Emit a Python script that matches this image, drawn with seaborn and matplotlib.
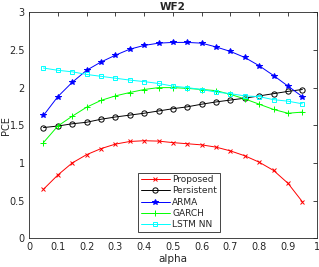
import numpy as np
import pandas as pd
import seaborn as sns
import matplotlib.pyplot as plt

# alpha values
alpha = [0.05, 0.1, 0.15, 0.2, 0.25, 0.3, 0.35, 0.4, 0.45, 0.5,
         0.55, 0.6, 0.65, 0.7, 0.75, 0.8, 0.85, 0.9, 0.95]

# PCE per method
proposed = [0.65, 0.84, 1.00, 1.11, 1.19, 1.25, 1.285, 1.295, 1.29, 1.27,
            1.255, 1.24, 1.21, 1.16, 1.095, 1.01, 0.90, 0.73, 0.485]
persistent = [1.47, 1.49, 1.52, 1.54, 1.58, 1.61, 1.635, 1.66, 1.69, 1.72,
              1.745, 1.78, 1.81, 1.835, 1.86, 1.89, 1.92, 1.95, 1.975]
arma = [1.63, 1.88, 2.07, 2.23, 2.34, 2.43, 2.51, 2.56, 2.59, 2.60,
        2.60, 2.59, 2.54, 2.48, 2.40, 2.29, 2.16, 2.02, 1.88]
garch = [1.27, 1.49, 1.62, 1.74, 1.83, 1.89, 1.935, 1.975, 2.00, 2.00,
         1.99, 1.975, 1.96, 1.91, 1.85, 1.78, 1.71, 1.66, 1.675]
lstm = [2.26, 2.23, 2.21, 2.175, 2.15, 2.125, 2.10, 2.08, 2.055, 2.02,
        2.00, 1.975, 1.94, 1.92, 1.89, 1.88, 1.84, 1.82, 1.785]

names = ['Proposed', 'Persistent', 'ARMA', 'GARCH', 'LSTM NN']
series = [proposed, persistent, arma, garch, lstm]
colors = ['#ff0000', '#000000', '#0000ff', '#00ff00', '#00ffff']
markers = ['x', 'o', '*', '+', 's']
msizes = [3.2, 3.8, 4.2, 4.2, 3.5]

sns.set_style('white')
plt.rcParams['font.family'] = ['DejaVu Sans']

fig = plt.figure(figsize=(3.19, 2.67), dpi=100)
ax = fig.add_axes([0.091, 0.1075, 0.902, 0.8465])

for name, vals, c, m, ms in zip(names, series, colors, markers, msizes):
    df = pd.DataFrame({'alpha': alpha, 'PCE': vals})
    sns.lineplot(data=df, x='alpha', y='PCE', ax=ax, color=c, marker=m,
                 markersize=ms, linewidth=0.7, mfc='none' if m in ('o', 's') else c,
                 mec=c, mew=0.7, label=name)

ax.set_xlim(0, 1)
ax.set_ylim(0, 3)
ax.set_xticks(np.arange(0, 1.01, 0.1))
ax.set_xticklabels(['0', '0.1', '0.2', '0.3', '0.4', '0.5', '0.6', '0.7', '0.8', '0.9', '1'])
ax.set_yticks(np.arange(0, 3.01, 0.5))
ax.set_yticklabels(['0', '0.5', '1', '1.5', '2', '2.5', '3'])
ax.tick_params(direction='in', length=3, width=0.6, labelsize=7, colors='#262626',
               top=True, right=True, pad=3)
for s in ax.spines.values():
    s.set_color('#262626')
    s.set_linewidth(0.6)

ax.set_xlabel('alpha', fontsize=7.5, labelpad=1, color='#262626')
ax.set_ylabel('PCE', fontsize=7, color='#262626')
ax.yaxis.set_label_coords(-0.064, 0.5)
ax.set_title('WF2', fontsize=7.5, fontweight='bold', pad=2)

leg = ax.legend(loc='lower left', bbox_to_anchor=(0.379, 0.028), fontsize=6.5,
                frameon=True, fancybox=False, edgecolor='#262626', framealpha=1,
                handlelength=3.2, handletextpad=0.3, borderpad=0.3,
                labelspacing=0.25, borderaxespad=0)
leg.get_frame().set_linewidth(0.6)

fig.savefig('out.png', dpi=100)
